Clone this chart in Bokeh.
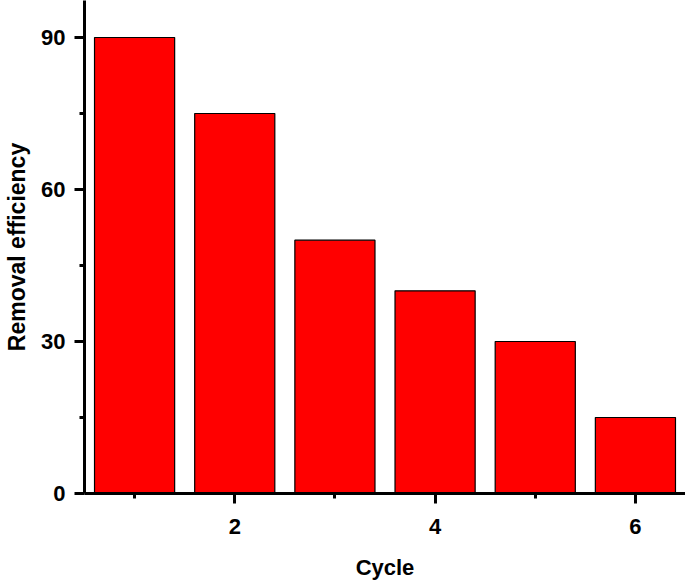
from bokeh.plotting import figure
from bokeh.models import FixedTicker, Range1d
from bokeh.embed import file_html
from bokeh.resources import INLINE

cycles = [1, 2, 3, 4, 5, 6]
efficiency = [90, 75, 50, 40, 30, 15]
x_major = [2, 4, 6]
x_minor = [1, 3, 5]
y_major = [0, 30, 60, 90]
y_minor = [15, 45, 75]

p = figure(width=685, height=585, output_backend="svg", toolbar_location=None,
           x_range=Range1d(0.5, 6.5), y_range=Range1d(0, 97.3),
           min_border_top=0, min_border_right=0, min_border_left=84, min_border_bottom=92)

p.vbar(x=cycles, top=efficiency, width=0.8, bottom=0,
       fill_color="#FF0000", line_color="black", line_width=1.2)

p.grid.visible = False
p.outline_line_color = None
p.background_fill_color = "white"
p.border_fill_color = "white"

FONT = "Liberation Sans"
for ax in (p.xaxis[0], p.yaxis[0]):
    ax.axis_line_width = 3
    ax.axis_line_color = "black"
    ax.major_tick_line_width = 3
    ax.minor_tick_line_width = 3
    ax.major_tick_out = 10
    ax.major_tick_in = 0
    ax.minor_tick_out = 5
    ax.minor_tick_in = 0
    ax.major_label_text_font = FONT
    ax.major_label_text_font_style = "bold"
    ax.major_label_text_font_size = "22px"
    ax.major_label_text_color = "black"
    ax.axis_label_text_font = FONT
    ax.axis_label_text_font_style = "bold"
    ax.axis_label_text_font_size = "23px"
    ax.axis_label_text_color = "black"

p.xaxis[0].ticker = FixedTicker(ticks=x_major, minor_ticks=x_minor)
p.yaxis[0].ticker = FixedTicker(ticks=y_major, minor_ticks=y_minor)
p.xaxis[0].axis_label = "Cycle"
p.yaxis[0].axis_label = "Removal efficiency"
p.xaxis[0].axis_label_text_font_size = "22px"
p.xaxis[0].major_label_standoff = 15
p.xaxis[0].axis_label_standoff = 18
p.yaxis[0].major_label_standoff = 9
p.yaxis[0].axis_label_standoff = 8

open("out.html", "w").write(file_html(p, INLINE))
